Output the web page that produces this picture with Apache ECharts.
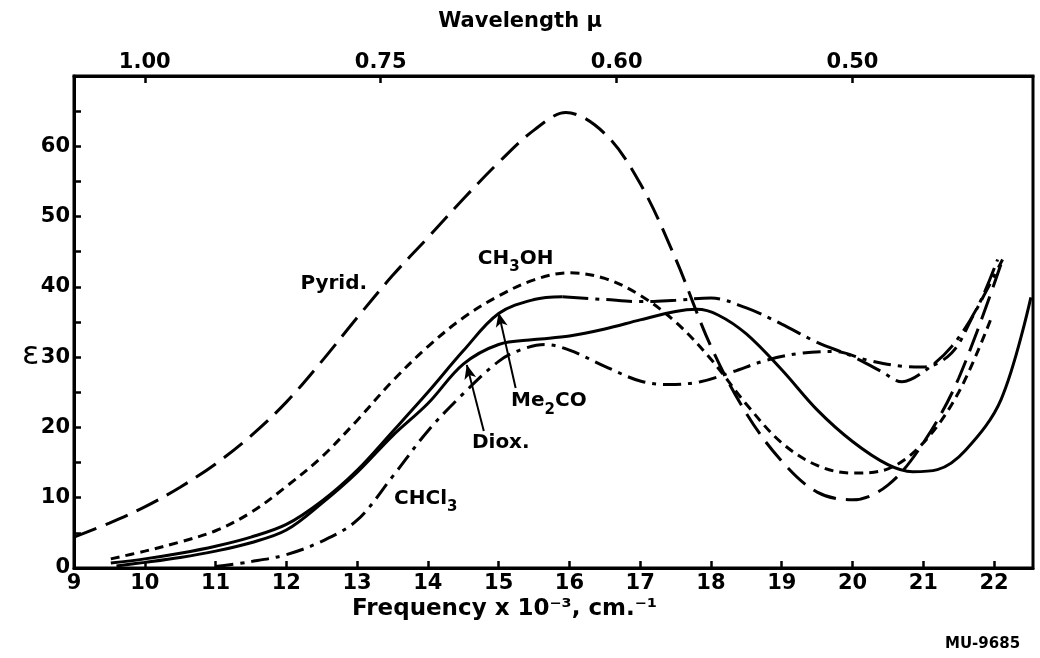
<!DOCTYPE html>
<html><head><meta charset="utf-8">
<script src="https://cdn.jsdelivr.net/npm/echarts@6/dist/echarts.min.js"></script>
<style>html,body{margin:0;padding:0;background:#fff}#c{width:1040px;height:658px}</style>
</head><body><div id="c"></div>
<script>
// Tick labels
const freqTicks = [9,10,11,12,13,14,15,16,17,18,19,20,21,22];
const wavelengthTicks = [1.00, 0.75, 0.60, 0.50];
const epsTicks = [0,5,10,15,20,25,30,35,40,45,50,55,60,65,70];

// Series: [frequency x 10^-3 cm^-1, epsilon]
const pyrid = [[9,4.4],[9.5,6.4],[10,8.7],[10.5,11.5],[11,14.8],[11.5,18.8],[12,23.6],[12.5,29.4],[13,35.6],[13.5,41.6],[14,47],[14.5,52.5],[15,57.7],[15.5,62.3],[15.95,64.8],[16.5,61.8],[17,54.7],[17.5,44],[18,31.5],[18.5,22],[19,15.2],[19.5,10.8],[20,9.7],[20.5,11.8],[21,17.8],[21.5,27],[22.12,43.9]];
const ch3oh = [[9.52,1.3],[10,2.4],[10.5,3.7],[11,5.3],[11.5,7.9],[12,11.6],[12.5,15.8],[13,21],[13.5,26.6],[14,31.5],[14.5,35.6],[15,38.7],[15.5,41],[16,42],[16.5,41.2],[17,38.8],[17.5,35],[18,29.7],[18.5,23.3],[19,17.8],[19.5,14.6],[20,13.5],[20.5,14.1],[21,17.8],[21.5,25],[21.95,35.3]];
const me2coSolid = [[9.52,0.7],[10,1.3],[10.5,2.1],[11,3.1],[11.5,4.4],[12,6.2],[12.5,9.5],[13,13.9],[13.5,19.4],[14,25],[14.5,30.9],[15,36.2],[15.5,38.2],[15.9,38.6]];
const me2coDashDot = [[15.9,38.6],[16.5,38.2],[17,37.9],[17.5,38.1],[18,38.4],[18.5,37],[19,34.7],[19.5,32.1],[20,30.1],[20.4,28],[20.7,26.5],[21,27.9],[21.4,31.5],[21.77,37.2],[22.05,43.9]];
const diox = [[9.6,0.3],[10,0.8],[10.5,1.5],[11,2.4],[11.5,3.6],[12,5.4],[12.5,9.2],[13,13.6],[13.5,18.8],[14,23.4],[14.5,29],[15,31.8],[15.5,32.5],[16,33],[16.5,34],[17,35.3],[17.5,36.5],[17.8,36.8],[18.1,36],[18.5,33.3],[19,28.2],[19.5,22.5],[20,18],[20.5,14.7],[20.85,13.7],[21.2,14],[21.6,16.8],[22.1,24],[22.52,38.5]];
const chcl3 = [[11,0.2],[11.5,0.9],[12,1.9],[12.5,3.8],[13,6.8],[13.5,13],[14,19.5],[14.5,24.8],[15,29.4],[15.3,31],[15.65,31.8],[16,31],[16.5,28.7],[17,26.6],[17.4,26.1],[17.85,26.5],[18.3,27.9],[18.8,29.6],[19.3,30.6],[19.75,30.8],[20.2,29.6],[20.7,28.7],[21,28.6],[21.4,30.6],[21.7,35.8],[22.12,43.9]];

// Curve labels and arrows (data coordinates)
const labelPyrid = [12.67, 40.0];
const labelCh3oh = [15.24, 43.6];
const labelMe2co = [15.71, 23.3];
const labelDiox = [15.03, 17.4];
const labelChcl3 = [13.97, 9.4];
const arrowMe2co = [[15.24, 25.6], [15.0, 36.3]];
const arrowDiox = [[14.79, 19.5], [14.55, 28.9]];

const FONT = 'DejaVu Sans';
const lblStyle = {
  color: '#000', fontFamily: FONT, fontWeight: 'bold', fontSize: 20,
  rich: {
    m: {fontFamily: FONT, fontWeight: 'bold', fontSize: 20, color: '#000', verticalAlign: 'bottom', padding: [0,0,6,0]},
    s: {fontFamily: FONT, fontWeight: 'bold', fontSize: 15, color: '#000', verticalAlign: 'bottom'}
  }
};
function mp(coord, text) {
  return {
    symbol: 'rect', symbolSize: 1, itemStyle: {color: 'rgba(0,0,0,0)'}, silent: true,
    label: Object.assign({show: true, position: 'inside', formatter: text}, lblStyle),
    data: [{coord: coord}]
  };
}
function ml(arrow) {
  return {
    silent: true, symbol: ['none', 'arrow'], symbolSize: [9, 14],
    lineStyle: {color: '#000', width: 2, type: 'solid'},
    label: {show: false},
    data: [[{coord: arrow[0]}, {coord: arrow[1]}]]
  };
}
function line(name, data, dash, extra) {
  return Object.assign({
    type: 'line', name: name, data: data, smooth: 0.35, symbol: 'none',
    xAxisIndex: 0, yAxisIndex: 0,
    lineStyle: {color: '#000', width: 3, type: dash, cap: 'butt'}
  }, extra || {});
}

const axisFont = {color: '#000', fontFamily: FONT, fontWeight: 'bold', fontSize: 21};
const chart = echarts.init(document.getElementById('c'), null, {renderer: 'canvas'});
chart.setOption({
  backgroundColor: '#fff',
  animation: false,
  grid: {left: 74, right: 7, top: 76, bottom: 90, show: true, borderColor: '#000', borderWidth: 3, backgroundColor: 'transparent'},
  xAxis: [
    {
      type: 'value', position: 'bottom', min: 9, max: 22.55,
      axisLine: {show: true, lineStyle: {color: '#000', width: 3}},
      axisTick: {show: true, inside: true, length: 7, lineStyle: {color: '#000', width: 2.5}, customValues: freqTicks},
      axisLabel: Object.assign({margin: 5, customValues: freqTicks, formatter: v => String(v)}, axisFont),
      splitLine: {show: false}
    },
    {
      type: 'value', position: 'top', min: 9, max: 22.55,
      axisLine: {show: true, lineStyle: {color: '#000', width: 3}},
      axisTick: {show: true, inside: true, length: 7, lineStyle: {color: '#000', width: 2.5}, customValues: wavelengthTicks.map(w => 10 / w)},
      axisLabel: Object.assign({margin: 3, customValues: wavelengthTicks.map(w => 10 / w), formatter: v => (10 / v).toFixed(2)}, axisFont),
      splitLine: {show: false}
    }
  ],
  yAxis: [{
    type: 'value', min: 0, max: 70, interval: 5,
    axisLine: {show: true, lineStyle: {color: '#000', width: 3}},
    axisTick: {show: true, inside: true, length: 7, lineStyle: {color: '#000', width: 2.5}},
    axisLabel: Object.assign({margin: 4, formatter: v => (v % 10 === 0 && v < 70) ? String(v) : ''}, axisFont),
    splitLine: {show: false}
  }],
  graphic: [
    {type: 'text', left: 'center', top: 11, style: {text: 'Wavelength μ', fill: '#000', font: 'bold 21px "DejaVu Sans"', x: -8}},
    {type: 'text', left: 352, top: 598, style: {text: 'Frequency x 10⁻³, cm.⁻¹', fill: '#000', font: 'bold 23px "DejaVu Sans"'}},
    {type: 'text', left: 22, top: 340, style: {text: 'ε', fill: '#000', font: '32px "DejaVu Sans"'}},
    {type: 'text', left: 945, top: 637, style: {text: 'MU-9685', fill: '#000', font: 'bold 15px "DejaVu Sans"'}}
  ],
  series: [
    line('Pyrid.', pyrid, [24, 10], {markPoint: mp(labelPyrid, '{m|Pyrid.}')}),
    line('CH3OH', ch3oh, [9, 6], {markPoint: mp(labelCh3oh, '{m|CH}{s|3}{m|OH}')}),
    line('Me2CO', me2coSolid, 'solid', {markPoint: mp(labelMe2co, '{m|Me}{s|2}{m|CO}'), markLine: ml(arrowMe2co)}),
    line('Me2CO ', me2coDashDot, [26, 7, 4, 7]),
    line('Diox.', diox, 'solid', {markPoint: mp(labelDiox, '{m|Diox.}'), markLine: ml(arrowDiox)}),
    line('CHCl3', chcl3, [18, 7, 4, 7], {markPoint: mp(labelChcl3, '{m|CHCl}{s|3}')})
  ]
});
</script>
</body></html>
